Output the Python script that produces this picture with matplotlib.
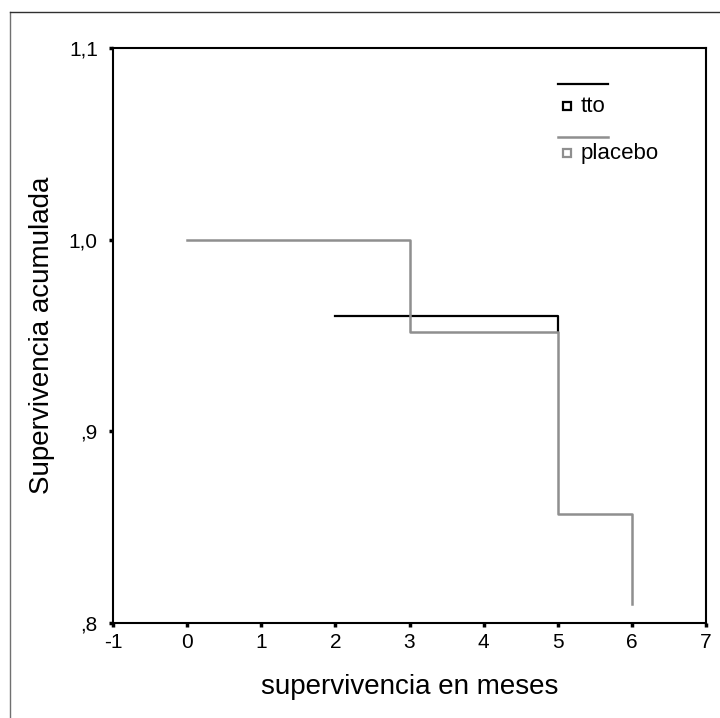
import matplotlib.pyplot as plt
from matplotlib.lines import Line2D

plt.rcParams['font.family'] = ['Liberation Sans', 'DejaVu Sans']

# Kaplan-Meier steps (time, cumulative survival)
tto_t = [2, 5]
tto_s = [0.96, 0.952]
placebo_t = [0, 3, 5, 6]
placebo_s = [1.0, 0.952, 0.857, 0.81]

xticks = [-1, 0, 1, 2, 3, 4, 5, 6, 7]
yticks = [0.8, 0.9, 1.0, 1.1]
ytick_labels = [',8', ',9', '1,0', '1,1']

fig = plt.figure(figsize=(7.2, 7.18), dpi=100)
ax = fig.add_axes([0.157, 0.1323, 0.8236, 0.8008])

gray = '#8f8f8f'
ax.step(tto_t, tto_s, where='post', color='black', lw=1.6)
ax.step(placebo_t, placebo_s, where='post', color=gray, lw=1.8)

ax.set_xlim(-1, 7)
ax.set_ylim(0.8, 1.1)
ax.set_xticks(xticks)
ax.set_xticklabels([str(v) for v in xticks])
ax.set_yticks(yticks)
ax.set_yticklabels(ytick_labels)
ax.tick_params(direction='out', length=3, width=2.5, labelsize=15)
ax.tick_params(axis='x', pad=4)
ax.tick_params(axis='y', pad=8)
for s in ax.spines.values():
    s.set_linewidth(1.5)

ax.set_xlabel('supervivencia en meses', fontsize=20, labelpad=16)
ax.set_ylabel('Supervivencia acumulada', fontsize=20, labelpad=10)

# legend drawn by hand (line above, square + label below)
tr = ax.transAxes
ax.plot([0.750, 0.835], [0.937, 0.937], color='black', lw=1.6, transform=tr, clip_on=False)
ax.plot([0.766], [0.899], marker='s', ms=6, mfc='none', mec='black', mew=1.6, transform=tr)
ax.text(0.788, 0.899, 'tto', fontsize=16, va='center', transform=tr)
ax.plot([0.750, 0.835], [0.845, 0.845], color=gray, lw=1.8, transform=tr, clip_on=False)
ax.plot([0.766], [0.817], marker='s', ms=6, mfc='none', mec=gray, mew=1.6, transform=tr)
ax.text(0.788, 0.817, 'placebo', fontsize=16, va='center', transform=tr)

# outer frame (left and top edges)
fig.add_artist(Line2D([10 / 720, 10 / 720], [0, 1 - 12 / 718], color='#707070', lw=1, transform=fig.transFigure))
fig.add_artist(Line2D([10 / 720, 1], [1 - 12 / 718, 1 - 12 / 718], color='#303030', lw=1, transform=fig.transFigure))

fig.savefig('out.png', dpi=100)
